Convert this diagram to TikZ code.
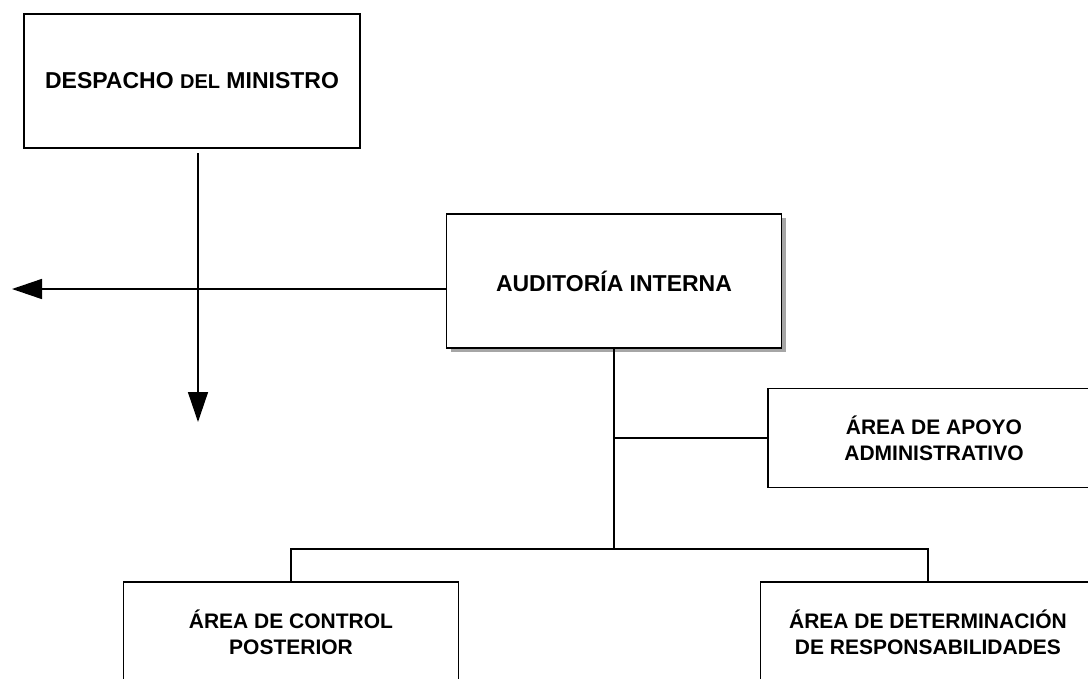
\documentclass[tikz,border=0pt]{standalone}
\usepackage{fontspec}
\setmainfont{Liberation Sans}
\usetikzlibrary{arrows.meta, shadows}

\begin{document}
\begin{tikzpicture}[x=1pt, y=-1pt, line width=1.5pt,
    unit box/.style={rectangle, draw, fill=white, align=center, inner sep=0pt,
        font=\bfseries\fontsize{21}{26}\selectfont},
    head box/.style={unit box, font=\bfseries\fontsize{23}{26}\selectfont},
    tip/.style={-{Triangle[length=30pt, width=20pt]}}]
\useasboundingbox (0,0) rectangle (1088,678);
% boxes
\node[head box, minimum width=336pt, minimum height=134pt] (despacho) at (192,81)
    {DESPACHO {\fontsize{20}{26}\selectfont DEL} MINISTRO};
\node[head box, minimum width=335pt, minimum height=134pt,
    drop shadow={shadow xshift=4pt, shadow yshift=-4pt, fill=gray!70, opacity=1}] (audit) at (614,281)
    {AUDITORÍA INTERNA};
\node[unit box, minimum width=332pt, minimum height=99pt] (apoyo) at (934,438)
    {ÁREA DE APOYO\\ADMINISTRATIVO};
\node[unit box, minimum width=335pt, minimum height=100pt] (control) at (291,632)
    {ÁREA DE CONTROL\\POSTERIOR};
\node[unit box, minimum width=335pt, minimum height=100pt] (determ) at (928,632)
    {ÁREA DE DETERMINACIÓN\\DE RESPONSABILIDADES};
% coordinates
\coordinate (d top) at (198,153);
\coordinate (d end) at (198,422);
\coordinate (w end) at (12,289);
\coordinate (fork) at (audit.south |- 0,549);
\coordinate (side) at (audit.south |- apoyo.west);
% connectors
\draw[tip] (d top) -- (d end);
\draw[tip] (audit.west |- w end) -- (w end);
\draw (audit.south) -- (fork);
\draw (side) -- (apoyo.west);
\draw (fork) -| (control.north);
\draw (fork) -| (determ.north);
\end{tikzpicture}
\end{document}
